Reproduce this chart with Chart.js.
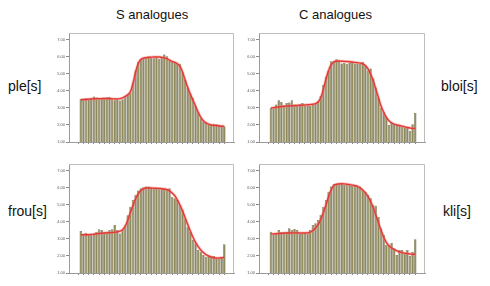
<!DOCTYPE html>
<html>
<head>
<meta charset="utf-8">
<script src="https://cdn.jsdelivr.net/npm/chart.js@4/dist/chart.umd.min.js"></script>
<style>
  body { margin: 0; background: #fff; width: 490px; height: 286px; position: relative; overflow: hidden; font-family: Arial, "Liberation Sans", sans-serif; }
  canvas { position: absolute; }
  .txt { position: absolute; color: #111; white-space: nowrap; }
  .head { font-size: 13px; top: 7px; }
  .row { font-size: 14px; }
</style>
</head>
<body>
<div class="txt head" style="left:116px">S analogues</div>
<div class="txt head" style="left:299px">C analogues</div>
<div class="txt row" style="left:8px;top:78px">ple[s]</div>
<div class="txt row" style="left:441px;top:78px">bloi[s]</div>
<div class="txt row" style="left:8px;top:203px">frou[s]</div>
<div class="txt row" style="left:443px;top:203px">kli[s]</div>
<canvas id="c1"></canvas>
<canvas id="c2"></canvas>
<canvas id="c3"></canvas>
<canvas id="c4"></canvas>
<script>
"use strict"

// y axis ticks (same for all four panels)
const yTicks = [1, 2, 3, 4, 5, 6, 7]

// ple[s]  (S analogues, top)
const plesBars = [3.55, 3.48, 3.58, 3.52, 3.56, 3.68, 3.62, 3.55, 3.58, 3.54, 3.62, 3.66, 3.5, 3.45,
    3.48, 3.44, 3.52, 3.7, 3.78, 3.9, 4.5, 5.2, 5.7, 5.88, 5.95, 5.96, 5.98, 5.95,
    5.92, 5.97, 5.9, 6.0, 6.15, 6.05, 5.78, 5.7, 5.72, 5.62, 5.6, 5.1, 4.65, 4.2,
    3.85, 3.6, 3.15, 2.75, 2.4, 2.2, 2.12, 2.05, 2.02, 2.08, 2.05, 1.98, 1.95, 1.92]
const plesFit = [3.48, 3.5, 3.5, 3.52, 3.53, 3.54, 3.55, 3.55, 3.55, 3.56, 3.56, 3.55, 3.54, 3.53,
    3.53, 3.55, 3.6, 3.68, 3.78, 3.95, 4.45, 5.1, 5.6, 5.85, 5.93, 5.96, 5.98, 5.99,
    6.0, 6.0, 6.0, 5.98, 5.95, 5.9, 5.82, 5.74, 5.68, 5.6, 5.45, 5.1, 4.65, 4.2,
    3.8, 3.45, 3.1, 2.75, 2.45, 2.25, 2.12, 2.05, 2.0, 1.98, 1.97, 1.95, 1.93, 1.92]

// bloi[s]  (C analogues, top)
const bloisBars = [3.0, 2.98, 3.2, 3.45, 3.35, 3.15, 3.3, 3.32, 3.45, 3.2, 3.15, 3.22, 3.3, 3.12,
    3.15, 3.12, 3.2, 3.25, 3.4, 3.7, 4.35, 4.85, 5.2, 5.75, 5.78, 5.86, 5.8, 5.62,
    5.65, 5.6, 5.68, 5.73, 5.62, 5.58, 5.6, 5.72, 5.5, 5.2, 5.32, 4.75, 4.2, 3.6,
    3.0, 2.75, 2.45, 2.0, 2.12, 2.05, 2.0, 1.95, 1.9, 1.86, 1.82, 1.65, 2.05, 2.7]
const bloisFit = [3.0, 3.02, 3.04, 3.06, 3.08, 3.1, 3.11, 3.12, 3.13, 3.14, 3.15, 3.16, 3.17, 3.18,
    3.19, 3.2, 3.22, 3.26, 3.35, 3.6, 4.1, 4.7, 5.2, 5.55, 5.7, 5.75, 5.76, 5.75,
    5.74, 5.73, 5.72, 5.7, 5.68, 5.66, 5.64, 5.6, 5.5, 5.3, 5.0, 4.6, 4.1, 3.6,
    3.1, 2.75, 2.45, 2.25, 2.12, 2.05, 2.0, 1.97, 1.93, 1.89, 1.85, 1.82, 1.8, 1.8]

// frou[s]  (S analogues, bottom)
const frousBars = [3.47, 3.23, 3.37, 3.23, 3.22, 3.23, 3.43, 3.57, 3.53, 3.43, 3.43, 3.53, 3.57, 3.82,
    3.53, 3.33, 3.53, 3.8, 4.4, 4.9, 5.3, 5.6, 5.85, 5.98, 6.04, 6.08, 6.08, 6.02,
    5.98, 5.94, 5.92, 6.02, 5.94, 5.92, 5.98, 5.48, 5.4, 5.3, 5.0, 4.7, 4.2, 3.72,
    3.43, 2.94, 2.75, 2.35, 2.25, 2.06, 1.96, 2.0, 1.92, 2.0, 1.86, 1.84, 1.92, 2.69]
const frousFit = [3.25, 3.25, 3.25, 3.25, 3.26, 3.28, 3.3, 3.32, 3.34, 3.35, 3.36, 3.37, 3.38, 3.4,
    3.42, 3.46, 3.55, 3.75, 4.1, 4.55, 4.95, 5.35, 5.65, 5.85, 5.95, 6.0, 6.0, 6.0,
    5.99, 5.98, 5.97, 5.96, 5.94, 5.9, 5.83, 5.7, 5.55, 5.3, 5.0, 4.65, 4.25, 3.85,
    3.45, 3.1, 2.8, 2.55, 2.35, 2.2, 2.08, 2.0, 1.94, 1.9, 1.88, 1.88, 1.9, 1.93]

// kli[s]  (C analogues, bottom)
const klisBars = [3.43, 3.28, 3.33, 3.53, 3.43, 3.43, 3.43, 3.63, 3.53, 3.59, 3.53, 3.29, 3.33, 3.37,
    3.33, 3.53, 3.82, 3.92, 4.12, 4.41, 4.9, 5.3, 5.78, 6.08, 6.24, 6.24, 6.27, 6.31,
    6.2, 6.2, 6.18, 6.12, 6.12, 6.08, 6.08, 5.88, 5.78, 5.59, 5.4, 5.0, 4.95, 4.3,
    3.63, 3.24, 2.65, 2.65, 2.78, 2.45, 2.06, 2.35, 2.35, 2.16, 2.35, 2.0, 2.25, 2.98]
const klisFit = [3.3, 3.3, 3.31, 3.32, 3.33, 3.34, 3.35, 3.35, 3.36, 3.36, 3.36, 3.35, 3.35, 3.35,
    3.36, 3.4, 3.5, 3.65, 3.85, 4.15, 4.55, 5.0, 5.5, 5.9, 6.15, 6.22, 6.24, 6.25,
    6.24, 6.22, 6.2, 6.17, 6.14, 6.1, 6.0, 5.88, 5.72, 5.5, 5.2, 4.85, 4.4, 3.95,
    3.5, 3.1, 2.8, 2.6, 2.47, 2.38, 2.3, 2.25, 2.2, 2.17, 2.14, 2.12, 2.1, 2.1]

// light grey box round the plot area (top + right side)
const framePlugin = {
    id: "frame",
    afterDraw(chart) {
        const a = chart.chartArea
        const ctx = chart.ctx
        ctx.save()
        ctx.strokeStyle = "#bdbdbd"
        ctx.lineWidth = 1
        ctx.beginPath()
        ctx.moveTo(a.left, a.top + 0.5)
        ctx.lineTo(a.right - 0.5, a.top + 0.5)
        ctx.lineTo(a.right - 0.5, a.bottom)
        ctx.stroke()
        ctx.restore()
    }
}

const toXY = (arr) => arr.map((v, i) => ({ x: i, y: v }))

const makePanel = (id, x0, x1, y0, y1, bars, fit) => {
    const padL = 20, padT = 4, padR = 4, padB = 6
    const cv = document.getElementById(id)
    cv.width = x1 - x0 + padL + padR
    cv.height = y1 - y0 + padT + padB
    cv.style.left = (x0 - padL) + "px"
    cv.style.top = (y0 - padT) + "px"

    new Chart(cv, {
        type: "bar",
        data: {
            datasets: [{
                // soft pink halo under the fit line
                type: "line",
                data: toXY(fit),
                borderColor: "rgba(240, 120, 120, 0.45)",
                borderWidth: 3,
                pointRadius: 0,
                tension: 0.4,
                order: 1
            }, {
                type: "line",
                data: toXY(fit),
                borderColor: "#e23a33",
                borderWidth: 1.4,
                pointRadius: 0,
                tension: 0.4,
                order: 0
            }, {
                data: toXY(bars),
                backgroundColor: "#8f8a5d",
                borderColor: "#5f5b3b",
                borderWidth: 0.5,
                barPercentage: 0.94,
                categoryPercentage: 1,
                order: 2
            }]
        },
        options: {
            responsive: false,
            animation: false,
            layout: { padding: { top: padT, right: padR, left: 0, bottom: 0 } },
            plugins: { legend: { display: false }, tooltip: { enabled: false } },
            scales: {
                x: {
                    type: "linear",
                    min: -3.4,
                    max: 57.6,
                    afterBuildTicks: (s) => { s.ticks = bars.map((v, i) => ({ value: i })).filter((t) => t.value % 2 === 0) },
                    afterFit: (s) => { s.height = padB },
                    ticks: { callback: () => "", font: { size: 1 } },
                    grid: { drawOnChartArea: false, drawTicks: true, tickLength: 2, color: "#8a8a8a" },
                    border: { display: true, color: "#9a9a9a" }
                },
                y: {
                    min: 1,
                    max: 7.41,
                    afterBuildTicks: (s) => { s.ticks = yTicks.map((v) => ({ value: v })) },
                    afterFit: (s) => { s.width = padL },
                    ticks: {
                        callback: (v) => v.toFixed(2),
                        font: { size: 4, family: "Arial, 'Liberation Sans'" },
                        color: "#555",
                        padding: 1
                    },
                    grid: { drawOnChartArea: false, drawTicks: true, tickLength: 3, color: "#8a8a8a" },
                    border: { display: true, color: "#9a9a9a" }
                }
            }
        },
        plugins: [framePlugin]
    })
}

makePanel("c1", 69, 234, 33, 142, plesBars, plesFit)
makePanel("c2", 259, 425, 33, 142, bloisBars, bloisFit)
makePanel("c3", 69, 234, 164, 273, frousBars, frousFit)
makePanel("c4", 259, 425, 164, 273, klisBars, klisFit)
</script>
</body>
</html>
